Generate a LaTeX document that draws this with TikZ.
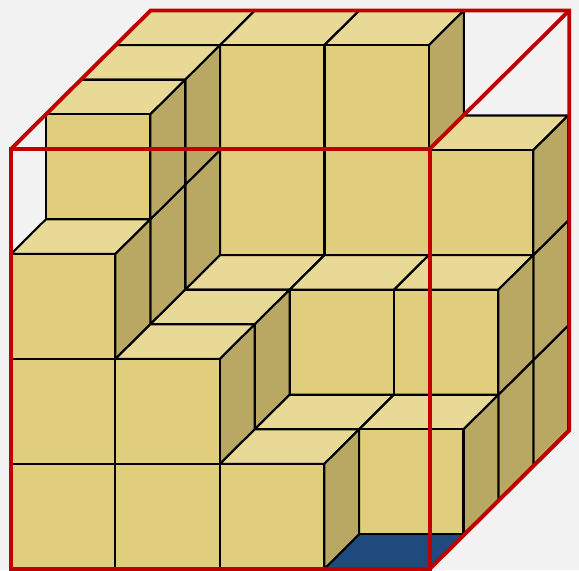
\documentclass[tikz,border=0pt]{standalone}
\usepackage{xcolor}
\definecolor{cubefront}{HTML}{E0CE7C}
\definecolor{cubetop}{HTML}{E8D996}
\definecolor{cubeside}{HTML}{B8A864}
\definecolor{floorblue}{HTML}{1F4A7D}
\definecolor{framered}{HTML}{C00000}
\definecolor{paper}{HTML}{F2F2F2}

\begin{document}
\begin{tikzpicture}[x=2.088cm, y=2.1cm, z={(0.698cm,0.6925cm)},
    edge/.style={draw=black, line width=1.2pt, line join=round},
    frame/.style={draw=framered, line width=2.2pt}]
  % background
  \path[fill=paper, use as bounding box] (-0.1054,-0.0095) rectangle (5.4406,5.419);

  % empty floor cell
  \fill[floorblue] (3,0,0) -- (4,0,0) -- (4,0,1) -- (3,0,1) -- cycle;

  % stacks, back row first
  \foreach \zpos/\heights in {3/{4,4,4,3}, 2/{4,2,2,2}, 1/{4,2,1,1}, 0/{3,2,1,0}} {
    \foreach \h [count=\xpos from 0] in \heights {
      \ifnum\h>0
        \foreach \ypos in {1,...,\h} {
          \filldraw[edge, fill=cubetop] (\xpos,\ypos,\zpos) -- (\xpos+1,\ypos,\zpos) -- (\xpos+1,\ypos,\zpos+1) -- (\xpos,\ypos,\zpos+1) -- cycle;
          \filldraw[edge, fill=cubeside] (\xpos+1,\ypos-1,\zpos) -- (\xpos+1,\ypos-1,\zpos+1) -- (\xpos+1,\ypos,\zpos+1) -- (\xpos+1,\ypos,\zpos) -- cycle;
          \filldraw[edge, fill=cubefront] (\xpos,\ypos-1,\zpos) -- (\xpos+1,\ypos-1,\zpos) -- (\xpos+1,\ypos,\zpos) -- (\xpos,\ypos,\zpos) -- cycle;
        }
      \fi
    }
  }

  % bounding cube
  \draw[frame] (0,0,0) -- (4.01,0,0) -- (4.01,4,0) -- (0,4,0) -- cycle;
  \draw[frame] (0,4,0) -- (0,4,4) -- (4.01,4,4) -- (4.01,0,4) -- (4.01,0,0);
  \draw[frame] (4.01,4,0) -- (4.01,4,4);
\end{tikzpicture}
\end{document}
